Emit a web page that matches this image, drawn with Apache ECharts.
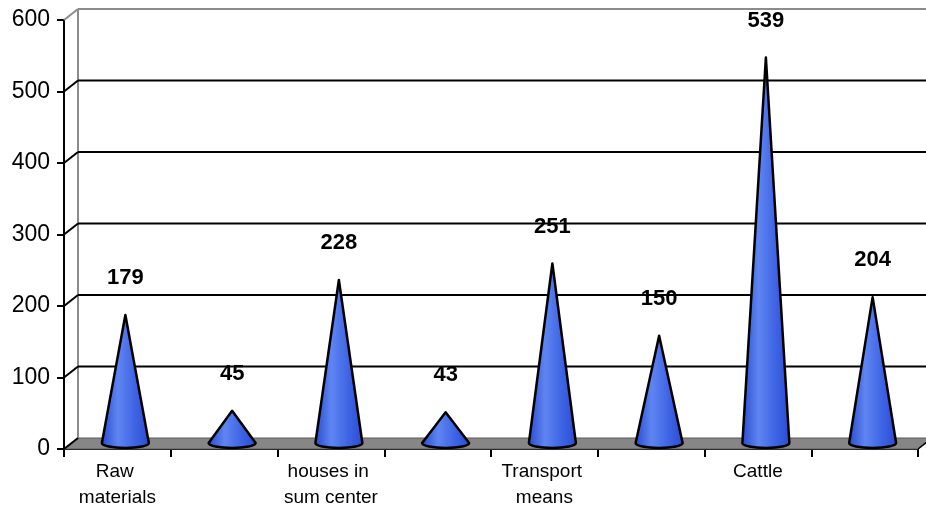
<!DOCTYPE html>
<html>
<head>
<meta charset="utf-8">
<script src="https://cdn.jsdelivr.net/npm/echarts@6/dist/echarts.min.js"></script>
<style>html,body{margin:0;padding:0;background:#fff;}#c{width:926px;height:512px;}</style>
</head>
<body>
<div id="c"></div>
<script>
const categories = ['Raw materials', '', 'houses in sum center', '', 'Transport means', '', 'Cattle', ''];
const values = [179, 45, 228, 43, 251, 150, 539, 204];
const yTicks = [0, 100, 200, 300, 400, 500, 600];

const chart = echarts.init(document.getElementById('c'));
const DX = 14, DY = -11;       // back wall depth offset
const CX = 8, CY = -6;         // cone depth offset

function frameRender(params, api) {
  const children = [];
  const cs = params.coordSys;
  const xL = cs.x, xR = cs.x + cs.width;
  const yBase = cs.y + cs.height;
  children.push({
    type: 'polygon',
    shape: { points: [[xL, yBase], [xR, yBase], [xR + DX, yBase + DY], [xL + DX, yBase + DY]] },
    style: { fill: '#868686', stroke: '#5a5a5a', lineWidth: 1 }
  });
  const yTop = api.coord([0, yTicks[yTicks.length - 1]])[1];
  children.push({ type: 'line', shape: { x1: xL + DX, y1: yBase + DY, x2: xL + DX, y2: yTop + DY }, style: { stroke: '#8c8c8c', lineWidth: 2 } });
  children.push({ type: 'line', shape: { x1: xL + DX, y1: yTop + DY, x2: xR + DX + 10, y2: yTop + DY }, style: { stroke: '#8c8c8c', lineWidth: 2 } });
  children.push({ type: 'line', shape: { x1: xL, y1: yTop, x2: xL + DX, y2: yTop + DY }, style: { stroke: '#8c8c8c', lineWidth: 2 } });
  yTicks.forEach(function (t, i) {
    if (i === 0 || i === yTicks.length - 1) return;
    const y = api.coord([0, t])[1];
    children.push({ type: 'line', shape: { x1: xL + DX, y1: y + DY, x2: xR + DX + 10, y2: y + DY }, style: { stroke: '#000', lineWidth: 2 } });
    children.push({ type: 'line', shape: { x1: xL, y1: y, x2: xL + DX, y2: y + DY }, style: { stroke: '#000', lineWidth: 2 } });
  });
  children.push({ type: 'line', shape: { x1: xL, y1: yBase, x2: xL + DX, y2: yBase + DY }, style: { stroke: '#000', lineWidth: 2 } });
  children.push({ type: 'line', shape: { x1: xR, y1: yBase, x2: xR + DX, y2: yBase + DY }, style: { stroke: '#000', lineWidth: 1.5 } });
  return { type: 'group', children: children };
}

function coneRender(params, api) {
  const idx = api.value(0);
  const v = api.value(1);
  const b = api.coord([idx, 0]);
  const a = api.coord([idx, v]);
  const hw = api.size([1, 0])[0] * 0.22;
  const ry = 5;
  const bx = b[0] + CX, by = b[1] + CY;
  const ax = a[0] + CX, ay = a[1] + CY;
  const path = 'M' + (bx - hw) + ' ' + by + ' L' + ax + ' ' + ay + ' L' + (bx + hw) + ' ' + by +
    ' A' + hw + ' ' + ry + ' 0 0 1 ' + (bx - hw) + ' ' + by + ' Z';
  return {
    type: 'group',
    children: [
      {
        type: 'path',
        shape: { pathData: path },
        style: {
          fill: new echarts.graphic.LinearGradient(0, 0, 1, 0, [
            { offset: 0, color: '#2748cc' },
            { offset: 0.35, color: '#5f85f2' },
            { offset: 0.7, color: '#3d63e4' },
            { offset: 1, color: '#2a4bd0' }
          ]),
          stroke: '#000', lineWidth: 2.5, lineJoin: 'round'
        }
      },
      {
        type: 'text',
        style: {
          text: String(v), x: ax, y: ay - 37,
          align: 'center', verticalAlign: 'middle',
          font: 'bold 22px "Liberation Sans", Arial, sans-serif', fill: '#000'
        }
      }
    ]
  };
}

chart.setOption({
  animation: false,
  backgroundColor: '#fff',
  grid: { left: 64, top: 20, width: 854, height: 429, containLabel: false },
  xAxis: {
    type: 'category',
    data: categories,
    boundaryGap: true,
    axisLine: { lineStyle: { color: '#000', width: 2 } },
    axisTick: { show: true, interval: 0, length: 8, lineStyle: { color: '#000', width: 2 } },
    axisLabel: {
      interval: 0, margin: 10, color: '#000', fontSize: 19, lineHeight: 26,
      fontFamily: '"Liberation Sans", Arial, sans-serif', width: 104, overflow: 'break'
    },
    splitLine: { show: false }
  },
  yAxis: {
    type: 'value', min: 0, max: 600, interval: 100,
    axisLine: { show: true, lineStyle: { color: '#000', width: 2 } },
    axisTick: { show: true, length: 7, lineStyle: { color: '#000', width: 2 } },
    axisLabel: { margin: 14, color: '#000', fontSize: 23, fontFamily: '"Liberation Sans", Arial, sans-serif' },
    splitLine: { show: false }
  },
  series: [
    {
      type: 'custom', name: 'frame', renderItem: frameRender, data: [[0, 0]], clip: false, z: 1, silent: true
    },
    {
      type: 'custom', name: 'cones', renderItem: coneRender, clip: false, z: 3,
      data: values.map(function (v, i) { return [i, v]; })
    }
  ]
});
</script>
</body>
</html>
